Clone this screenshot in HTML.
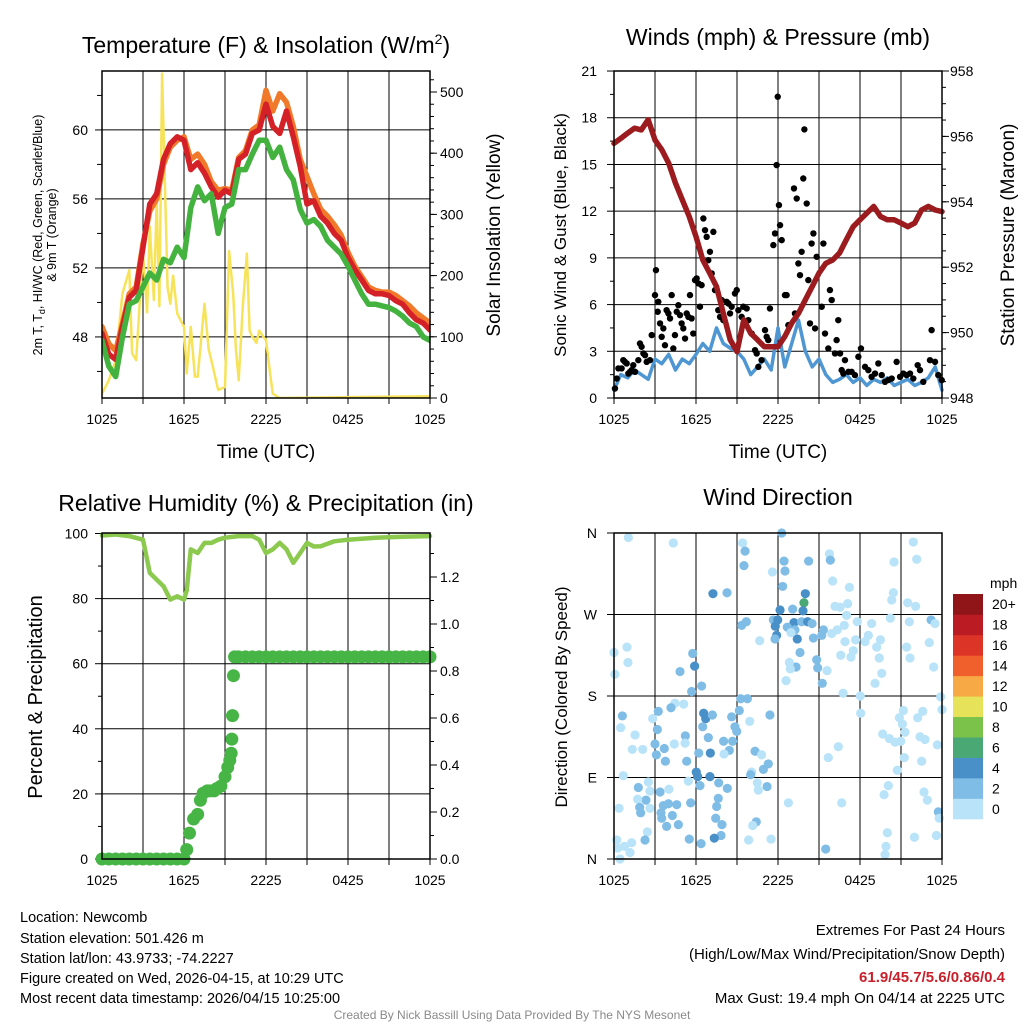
<!DOCTYPE html>
<html><head><meta charset="utf-8"><style>
html,body{margin:0;padding:0;background:#fff}
svg{display:block;font-family:"Liberation Sans",Arial,sans-serif}
</style></head><body>
<svg id="c" width="1024" height="1024" viewBox="0 0 1024 1024" xmlns="http://www.w3.org/2000/svg">
<rect width="1024" height="1024" fill="#fff"/>
<g id="g"></g>
<text x="266" y="53" font-size="23" text-anchor="middle">Temperature (F) &amp; Insolation (W/m<tspan font-size="14" dy="-9">2</tspan><tspan dy="9">)</tspan></text>
<text x="778" y="45" font-size="23" text-anchor="middle">Winds (mph) &amp; Pressure (mb)</text>
<text x="266" y="511" font-size="23" text-anchor="middle">Relative Humidity (%) &amp; Precipitation (in)</text>
<text x="778" y="505" font-size="23" text-anchor="middle">Wind Direction</text>
<text x="266" y="458" font-size="19" text-anchor="middle">Time (UTC)</text>
<text x="778" y="458" font-size="19" text-anchor="middle">Time (UTC)</text>
<text transform="translate(42,235) rotate(-90)" font-size="12.5" text-anchor="middle">2m T, T<tspan font-size="9" dy="3">d</tspan><tspan dy="-3">, HI/WC (Red, Green, Scarlet/Blue)</tspan></text>
<text transform="translate(56,235) rotate(-90)" font-size="12.5" text-anchor="middle">&amp; 9m T (Orange)</text>
<text transform="translate(500,235) rotate(-90)" font-size="19" text-anchor="middle">Solar Insolation (Yellow)</text>
<text transform="translate(566,235) rotate(-90)" font-size="17" text-anchor="middle">Sonic Wind &amp; Gust (Blue, Black)</text>
<text transform="translate(1014,235) rotate(-90)" font-size="19" text-anchor="middle">Station Pressure (Maroon)</text>
<text transform="translate(42,697) rotate(-90)" font-size="20" text-anchor="middle">Percent &amp; Precipitation</text>
<text transform="translate(567,697) rotate(-90)" font-size="17" text-anchor="middle">Direction (Colored By Speed)</text>
<text x="990" y="588" font-size="14">mph</text>
<g font-size="14.5">
<text x="20" y="922">Location: Newcomb</text>
<text x="20" y="943">Station elevation: 501.426 m</text>
<text x="20" y="963">Station lat/lon: 43.9733; -74.2227</text>
<text x="20" y="983">Figure created on Wed, 2026-04-15, at 10:29 UTC</text>
<text x="20" y="1003">Most recent data timestamp: 2026/04/15 10:25:00</text>
</g>
<g font-size="15" text-anchor="end">
<text x="1005" y="935">Extremes For Past 24 Hours</text>
<text x="1005" y="959">(High/Low/Max Wind/Precipitation/Snow Depth)</text>
<text x="1005" y="982" fill="#c8202a" font-weight="bold">61.9/45.7/5.6/0.86/0.4</text>
<text x="1005" y="1003">Max Gust: 19.4 mph On 04/14 at 2225 UTC</text>
</g>
<text x="512" y="1019" font-size="12" fill="#8a8a8a" text-anchor="middle">Created By Nick Bassill Using Data Provided By The NYS Mesonet</text>
</svg>
<script>
const xTickLabels=["1025","1625","2225","0425","1025"];
const tempRed=[48.2,47.0,46.7,48.6,50.3,50.7,53.2,55.7,56.3,58.3,59.2,59.6,59.4,57.7,58.1,57.5,56.7,56.1,56.5,56.3,58.3,58.6,59.8,60.0,61.5,60.2,59.8,61.1,59.6,57.9,55.7,55.9,55.0,54.6,54.0,53.6,52.6,51.9,51.3,50.7,50.5,50.5,50.4,50.1,49.9,49.4,49.0,48.8,48.4];
const tempOrange=[48.6,47.6,47.2,48.8,50.5,50.9,53.4,55.3,56.0,58.0,59.0,59.4,59.6,58.3,58.6,58.0,57.0,56.5,56.6,56.5,58.4,58.8,60.0,60.3,62.3,61.1,62.1,61.6,60.2,58.3,57.3,56.3,55.4,55.0,54.5,53.9,52.9,52.1,51.5,50.9,50.7,50.6,50.6,50.4,50.1,49.8,49.4,49.1,48.8];
const tempGreen=[47.8,46.3,45.7,48.0,49.9,50.1,50.9,51.7,51.3,52.5,52.3,53.2,52.6,55.5,56.7,55.9,56.3,54.0,55.5,55.7,57.7,57.7,58.6,59.4,59.4,58.4,59.0,57.7,57.1,55.4,54.6,54.8,54.4,53.6,53.2,52.8,52.1,51.3,50.5,49.9,49.9,49.8,49.7,49.5,49.2,48.8,48.6,48.0,47.8];
const tempTicks=[48,52,56,60];
const solarTicks=[0,100,200,300,400,500];
const solarT=[0,0.5,1,1.5,2,2.2,2.5,2.8,3,3.3,3.5,3.8,4,4.2,4.4,4.6,4.8,5,5.2,5.5,6,6.2,6.5,6.8,7,7.5,7.8,8,8.5,9,9.3,9.6,9.8,10,10.3,10.6,10.8,11,11.3,11.5,11.8,12,12.3,12.5,13,24];
const solarV=[7,29,62,171,209,73,62,171,236,140,280,160,323,150,530,350,180,154,200,138,116,40,116,35,35,154,80,62,13,18,240,170,80,29,150,236,110,100,90,110,100,95,40,7,0,3];
const windSonic=[0.5,1.5,1.3,1.8,1.5,1.2,2.5,2.2,2.8,1.8,2.5,2.2,2.8,3.5,3.0,4.5,3.5,3.2,3.0,2.5,1.5,2.0,2.5,1.8,4.5,2.0,3.5,5.0,3.0,2.0,2.5,1.5,1.0,1.2,1.5,1.0,1.3,0.8,1.2,1.0,1.3,0.8,1.0,1.2,0.8,1.0,1.3,2.0,0.5];
const pressure=[955.79,955.94,956.10,956.25,956.20,956.51,955.89,955.59,955.18,954.57,954.06,953.55,952.94,952.22,951.82,951.41,950.59,949.78,949.42,950.39,949.98,949.78,949.57,949.57,949.57,949.88,950.29,950.59,951.0,951.41,951.82,952.12,952.22,952.43,952.84,953.24,953.45,953.65,953.86,953.55,953.45,953.45,953.35,953.24,953.35,953.75,953.86,953.75,953.7];
const windTicks=[0,3,6,9,12,15,18,21];
const pressTicks=[948,950,952,954,956,958];
const gustObs=[[0.07,0.61],[0.2,1.25],[0.32,1.9],[0.56,1.9],[0.68,2.43],[0.8,2.32],[0.93,2.22],[1.05,1.57],[1.17,1.68],[1.29,1.79],[1.41,2.11],[1.54,1.68],[1.78,2.43],[1.9,3.5],[2.02,3.29],[2.15,2.86],[2.27,2.75],[2.39,2.32],[2.63,2.43],[2.76,4.04],[3.07,8.21],[3.0,6.61],[3.24,6.18],[3.2,5.54],[3.37,4.79],[3.49,3.93],[3.61,4.47],[3.73,3.39],[3.85,5.64],[3.98,5.43],[4.1,5.11],[4.22,6.61],[4.34,3.18],[4.46,4.04],[4.59,5.54],[4.71,5.96],[4.83,5.32],[4.95,4.79],[5.07,4.47],[5.2,3.82],[5.32,5.43],[5.44,5.21],[5.56,6.61],[5.68,5.11],[5.8,4.14],[5.93,7.57],[6.05,7.68],[6.17,7.36],[6.29,5.86],[6.41,7.25],[6.54,11.53],[6.66,10.78],[6.78,10.35],[6.9,8.85],[7.02,9.39],[7.15,8.0],[7.27,10.67],[7.39,6.93],[7.63,5.64],[7.76,5.21],[7.88,6.29],[8.0,5.0],[8.24,6.18],[8.37,6.07],[8.49,5.43],[8.61,5.86],[8.85,6.71],[8.98,6.93],[9.1,5.64],[9.34,5.21],[9.46,5.86],[9.71,5.75],[9.83,5.0],[10.07,4.14],[10.32,3.07],[10.44,2.86],[10.56,2.0],[10.8,2.43],[11.05,4.36],[11.17,3.93],[11.29,3.72],[11.41,5.75],[11.66,9.82],[11.78,10.57],[11.9,14.96],[11.98,19.35],[12.07,12.39],[12.15,11.1],[12.27,10.14],[12.51,6.61],[12.63,6.61],[12.76,4.68],[13.24,5.43],[13.17,13.46],[13.37,12.81],[13.49,8.64],[13.61,7.89],[13.73,9.39],[13.85,14.1],[13.93,17.25],[14.1,12.49],[14.22,7.57],[14.34,4.79],[14.46,9.92],[14.59,10.57],[14.71,4.47],[14.83,9.07],[15.2,5.86],[15.32,9.92],[15.44,4.14],[15.68,3.18],[15.8,6.93],[15.93,6.29],[16.17,2.86],[16.29,3.72],[16.41,5.0],[16.54,2.86],[16.66,1.79],[16.78,1.57],[16.9,2.43],[17.15,1.68],[17.39,1.68],[17.63,1.47],[17.88,2.65],[18.07,3.18],[18.37,2.0],[18.61,1.79],[18.85,1.36],[19.1,1.57],[19.34,2.22],[19.59,1.47],[19.83,1.04],[20.07,1.15],[20.32,1.25],[20.68,2.32],[20.93,1.36],[21.17,1.57],[21.41,1.47],[21.66,1.57],[21.9,1.25],[22.22,2.11],[22.39,1.79],[22.63,1.04],[23.12,2.43],[23.24,4.36],[23.49,2.32],[23.73,1.47],[23.98,1.15]];
const rhT=[0,1,2,3,3.5,4,4.5,5,5.5,6,6.2,6.5,7,7.5,8,8.5,9,10,11,11.5,12,12.5,13,13.5,14,14.5,15,15.5,16,17,18,20,22,24];
const rhV=[99.4,99.7,99.2,98.1,87.9,85.8,83.8,79.7,80.7,79.7,82.5,95.1,94.0,97.1,97.1,98.1,98.7,99.2,99.2,98.1,94,95.1,97.1,95.1,91,94,97.1,96,96.1,97.6,98.1,98.7,99,99.2];
const precipT=[0,0.5,1,1.5,2,2.5,3,3.5,4,4.5,5,5.5,6,6.2,6.4,6.7,7.0,7.2,7.4,7.7,7.9,8.2,8.4,8.7,9.0,9.2,9.35,9.45,9.5,9.55,9.62,9.7,10,10.5,11,11.5,12,12.5,13,13.5,14,14.5,15,15.5,16,16.5,17,17.5,18,18.5,19,19.5,20,20.5,21,21.5,22,22.5,23,23.5,24];
const precipV=[0,0,0,0,0,0,0,0,0,0,0,0,0,0.04,0.11,0.17,0.19,0.25,0.28,0.29,0.29,0.29,0.3,0.31,0.35,0.39,0.42,0.45,0.51,0.61,0.78,0.86,0.86,0.86,0.86,0.86,0.86,0.86,0.86,0.86,0.86,0.86,0.86,0.86,0.86,0.86,0.86,0.86,0.86,0.86,0.86,0.86,0.86,0.86,0.86,0.86,0.86,0.86,0.86,0.86,0.86];
const rhTicks=[0,20,40,60,80,100];
const precipTicks=["0.0","0.2","0.4","0.6","0.8","1.0","1.2"];
const dirTickLabels=["N","E","S","W","N"];
const dirTickValues=[0,90,180,270,360];
const dirObs=[[1.05,355,1],[4.34,349,1],[9.41,349,1],[9.59,340,3],[9.51,324,3],[12.27,360,3],[12.44,329,3],[12.51,318,3],[11.59,317,1],[12.34,301,3],[14.24,329,3],[15.76,337,1],[15.83,330,3],[16.0,307,1],[17.22,300,1],[20.49,328,1],[21.9,350,1],[22.15,331,1],[20.44,294,1],[20.32,286,1],[21.49,283,1],[22.07,279,1],[7.24,293,5],[8.27,294,3],[14.0,293,5],[13.9,283,7],[13.83,274,5],[13.07,276,3],[12.15,275,5],[11.66,264,3],[11.98,264,5],[11.8,257,5],[13.17,261,5],[12.68,256,3],[13.73,262,3],[14.17,262,5],[14.49,260,3],[11.9,247,5],[11.78,243,3],[13.41,243,5],[13.24,253,3],[12.95,250,1],[14.59,244,3],[15.32,253,3],[15.2,247,3],[15.93,249,1],[16.34,253,1],[16.85,258,1],[17.02,269,1],[16.17,279,1],[16.54,278,1],[17.1,282,1],[17.8,262,1],[17.68,242,1],[16.9,240,1],[16.59,225,1],[17.51,230,1],[17.34,223,1],[18.37,240,1],[18.61,247,1],[18.85,260,1],[19.22,234,1],[19.49,242,1],[19.41,222,1],[19.59,205,1],[19.1,194,1],[20.22,266,1],[21.61,262,1],[23.2,264,3],[23.49,260,1],[23.07,239,1],[21.41,234,1],[21.66,222,1],[23.39,212,1],[16.76,183,1],[18.02,180,1],[18.05,161,1],[23.9,179,1],[24.0,165,1],[21.17,164,1],[22.59,163,1],[20.88,156,1],[22.22,156,1],[21.1,149,1],[21.29,140,1],[19.66,138,1],[20.15,133,1],[20.56,129,1],[20.98,130,1],[22.39,135,1],[22.76,132,1],[23.66,126,1],[21.24,112,1],[22.51,108,1],[20.73,98,1],[20.07,81,1],[19.76,71,1],[22.68,74,1],[22.93,65,1],[23.73,52,3],[23.8,45,1],[20.0,29,1],[21.98,24,1],[23.59,26,1],[19.9,14,1],[19.83,5,1],[16.66,62,1],[16.41,124,1],[15.68,112,1],[15.49,11,3],[12.76,62,1],[13.61,228,3],[13.32,212,3],[12.83,217,1],[12.9,210,1],[12.59,197,1],[14.83,220,3],[14.9,211,3],[15.59,208,1],[15.24,194,3],[10.66,241,1],[9.68,262,3],[9.34,258,3],[9.27,177,3],[9.76,177,3],[9.17,164,3],[9.93,152,1],[11.41,159,3],[5.76,227,3],[5.9,213,5],[4.83,207,3],[6.41,191,3],[5.68,185,3],[0.95,234,1],[0,228,1],[1.02,217,1],[0.07,204,1],[4.46,172,1],[5.1,171,1],[4.17,167,3],[3.24,163,3],[2.83,155,1],[0.61,158,3],[0.49,145,1],[1.54,137,1],[3.17,143,3],[6.56,161,5],[6.71,155,5],[7.2,159,3],[6.49,146,3],[5.22,136,3],[6.9,134,3],[8.61,157,3],[8.85,146,3],[8.98,141,3],[8.68,130,3],[8.02,130,3],[8.44,120,3],[8.05,116,1],[7.05,117,5],[6.2,117,3],[4.41,127,1],[5.2,128,1],[3.0,127,3],[3.68,122,3],[2.1,121,1],[1.34,121,1],[3.1,115,3],[3.76,108,3],[5.32,108,3],[10.32,119,3],[10.8,115,1],[11.29,105,3],[10.93,99,3],[10.07,96,1],[10.0,93,3],[10.49,84,1],[10.56,76,1],[11.2,80,3],[9.85,21,1],[11.49,22,1],[10.41,41,3],[10.15,37,1],[6.02,96,5],[6.12,91,5],[7.02,91,5],[6.29,81,3],[5.44,86,1],[7.66,84,3],[8.29,78,3],[7.63,67,3],[7.51,58,3],[7.44,45,3],[7.9,38,3],[7.83,26,3],[7.34,23,5],[6.37,17,3],[5.51,22,3],[0.68,92,1],[1.78,79,3],[2.51,85,1],[2.63,75,1],[3.37,74,3],[4.02,77,1],[2.34,65,3],[1.73,66,1],[1.88,57,3],[1.95,51,3],[2.63,56,1],[3.61,59,3],[3.98,61,3],[4.59,60,3],[5.61,62,3],[3.44,51,3],[3.49,45,3],[4.27,48,3],[3.85,36,3],[4.71,38,3],[0.37,56,1],[2.44,30,1],[2.27,21,3],[0.2,21,1],[0.27,12,1],[0.76,14,1],[1.29,18,1],[1.17,7,1],[0.44,0,1]];
const speedLabels=["0","2","4","6","8","10","12","14","16","18","20+"];
const speedColors=["#b8e3f8","#80bde6","#4a90c8","#4aa874","#7bc24a","#e6e25a","#f6a945","#f0602c","#dc3426","#bb1b23","#8f1519"];

const NS="http://www.w3.org/2000/svg";
const G=document.getElementById('g');
function el(tag,attrs,parent){const e=document.createElementNS(NS,tag);for(const k in attrs)e.setAttribute(k,attrs[k]);(parent||G).appendChild(e);return e;}
const W=328;
const P={tl:{x0:102,y0:71,y1:398},tr:{x0:614,y0:71,y1:398},bl:{x0:102,y0:533,y1:859},br:{x0:614,y0:533,y1:859}};
function sx(p,t){return P[p].x0+t/24*W;}
const yTemp=v=>398-(v-44.46)*17.25;
const ySolar=v=>398-v*0.612;
const yWind=v=>398-v*15.57;
const yPress=v=>398-(v-948)*32.7;
const yRH=v=>859-v*3.255;
const yPrecip=v=>859-v*235;
const yDir=d=>859-d/360*326;

function frame(p,name){
  const f=P[p];
  const g=el('g',{});
  
  
  for(let i=0;i<=8;i++){
    const x=f.x0+i*W/8;
    const l=el('line',{x1:x,x2:x,y1:f.y0,y2:f.y1,stroke:'#000','stroke-width':1},g);
    
    
    el('line',{x1:x,x2:x,y1:f.y1,y2:f.y1+6,stroke:'#000','stroke-width':1},g);
  }
  for(let i=0;i<xTickLabels.length;i++){
    const t=el('text',{x:f.x0+i*W/4,y:f.y1+26,'font-size':14,'text-anchor':'middle'},g);
    
    
    t.textContent=xTickLabels[i];
  }
  return g;
}
function hgrid(g,p,y){el('line',{x1:P[p].x0,x2:P[p].x0+W,y1:y,y2:y,stroke:'#000','stroke-width':1},g);}
function tickL(g,p,y,len){el('line',{x1:P[p].x0-len,x2:P[p].x0,y1:y,y2:y,stroke:'#000','stroke-width':1},g);}
function tickR(g,p,y,len){const x=P[p].x0+W;el('line',{x1:x,x2:x+len,y1:y,y2:y,stroke:'#000','stroke-width':1},g);}
function label(g,x,y,txt,anchor,name){const t=el('text',{x:x,y:y+5,'font-size':14,'text-anchor':anchor},g);t.textContent=txt;}
function border(g,p){const f=P[p];el('rect',{x:f.x0,y:f.y0,width:W,height:f.y1-f.y0,fill:'none',stroke:'#000','stroke-width':1.5},g);}
function path(g,xs,ys,color,w,name){
  let d='';for(let i=0;i<xs.length;i++)d+=(i?'L':'M')+xs[i].toFixed(1)+','+ys[i].toFixed(1);
  const e=el('path',{d:d,fill:'none',stroke:color,'stroke-width':w,'stroke-linejoin':'round','stroke-linecap':'round'},g);
  
  
  return e;
}

// ---- Temperature panel
{
  const g=frame('tl','temperature-panel');
  for(const v of tempTicks){hgrid(g,'tl',yTemp(v));tickL(g,'tl',yTemp(v),7);label(g,88,yTemp(v),String(v),'end','temp-y-tick-label');}
  for(let v=46;v<=62;v+=4)tickL(g,'tl',yTemp(v),5);
  for(const v of solarTicks){tickR(g,'tl',ySolar(v),7);label(g,440,ySolar(v),String(v),'start','solar-y-tick-label');}
  for(let v=20;v<=520;v+=20)tickR(g,'tl',ySolar(v),4);
  const ht=tempRed.map((_,i)=>sx('tl',i*0.5));
  const cp=el('clipPath',{id:'ctl'},g);el('rect',{x:102,y:71,width:W,height:327},cp);
  const d=el('g',{'clip-path':'url(#ctl)'},g);
  path(d,solarT.map(t=>sx('tl',t)),solarV.map(ySolar),'#f7e35a',2.5,'solar-insolation-line');
  path(d,ht,tempOrange.map(yTemp),'#f07a2a',5.5,'temp-9m-orange-line');
  path(d,ht,tempRed.map(yTemp),'#d42128',5.5,'temp-2m-red-line');
  path(d,ht,tempGreen.map(yTemp),'#43b23f',5.5,'dewpoint-green-line');
  border(g,'tl');
}
// ---- Winds panel
{
  const g=frame('tr','winds-panel');
  for(const v of windTicks){hgrid(g,'tr',yWind(v));tickL(g,'tr',yWind(v),7);label(g,597,yWind(v),String(v),'end','wind-y-tick-label');}
  for(let v=1.5;v<21;v+=3)tickL(g,'tr',yWind(v),4);
  for(const v of pressTicks){tickR(g,'tr',yPress(v),7);label(g,950,yPress(v),String(v),'start','pressure-y-tick-label');}
  for(let v=948.5;v<958;v+=0.5)tickR(g,'tr',yPress(v),4);
  const ht=windSonic.map((_,i)=>sx('tr',i*0.5));
  path(g,ht,windSonic.map(yWind),'#4f97d3',3.5,'sonic-wind-line');
  for(const [t,v] of gustObs){const c=el('circle',{cx:sx('tr',t),cy:yWind(v),r:3.2,fill:'#000'},g);}
  path(g,ht,pressure.map(yPress),'#9b1b1f',5.5,'pressure-line');
  border(g,'tr');
}
// ---- Humidity panel
{
  const g=frame('bl','humidity-panel');
  for(const v of rhTicks){if(v>0&&v<100)hgrid(g,'bl',yRH(v));tickL(g,'bl',yRH(v),7);label(g,88,yRH(v),String(v),'end','rh-y-tick-label');}
  for(let v=10;v<100;v+=20)tickL(g,'bl',yRH(v),4);
  for(const s of precipTicks){tickR(g,'bl',yPrecip(+s),7);label(g,440,yPrecip(+s),s,'start','precip-y-tick-label');}
  for(let v=0.1;v<1.4;v+=0.1)tickR(g,'bl',yPrecip(v),4);
  path(g,rhT.map(t=>sx('bl',t)),rhV.map(yRH),'#8cc94f',4.5,'relative-humidity-line');
  for(let i=0;i<precipT.length;i++){const c=el('circle',{cx:sx('bl',precipT[i]),cy:yPrecip(precipV[i]),r:6.5,fill:'#46b545'},g);}
  border(g,'bl');
}
// ---- Wind direction panel
{
  const g=frame('br','wind-direction-panel');
  for(let i=0;i<dirTickValues.length;i++){const y=yDir(dirTickValues[i]);hgrid(g,'br',y);tickL(g,'br',y,7);label(g,597,y,dirTickLabels[i],'end','direction-y-tick-label');}
  for(const [t,d,s] of dirObs){const b=Math.min(10,Math.floor(s/2));const c=el('circle',{cx:sx('br',t),cy:yDir(d),r:4.6,fill:speedColors[b]},g);}
  border(g,'br');
  const cb=el('g',{});
  
  
  const h=225/11;
  for(let i=0;i<11;i++){
    const y=594+(10-i)*h;
    const r=el('rect',{x:953,y:y,width:30,height:h+0.3,fill:speedColors[i]},cb);
    
    
    label(cb,992,y+h/2,speedLabels[i],'start','colorbar-label');
  }
}
</script>
</body></html>
